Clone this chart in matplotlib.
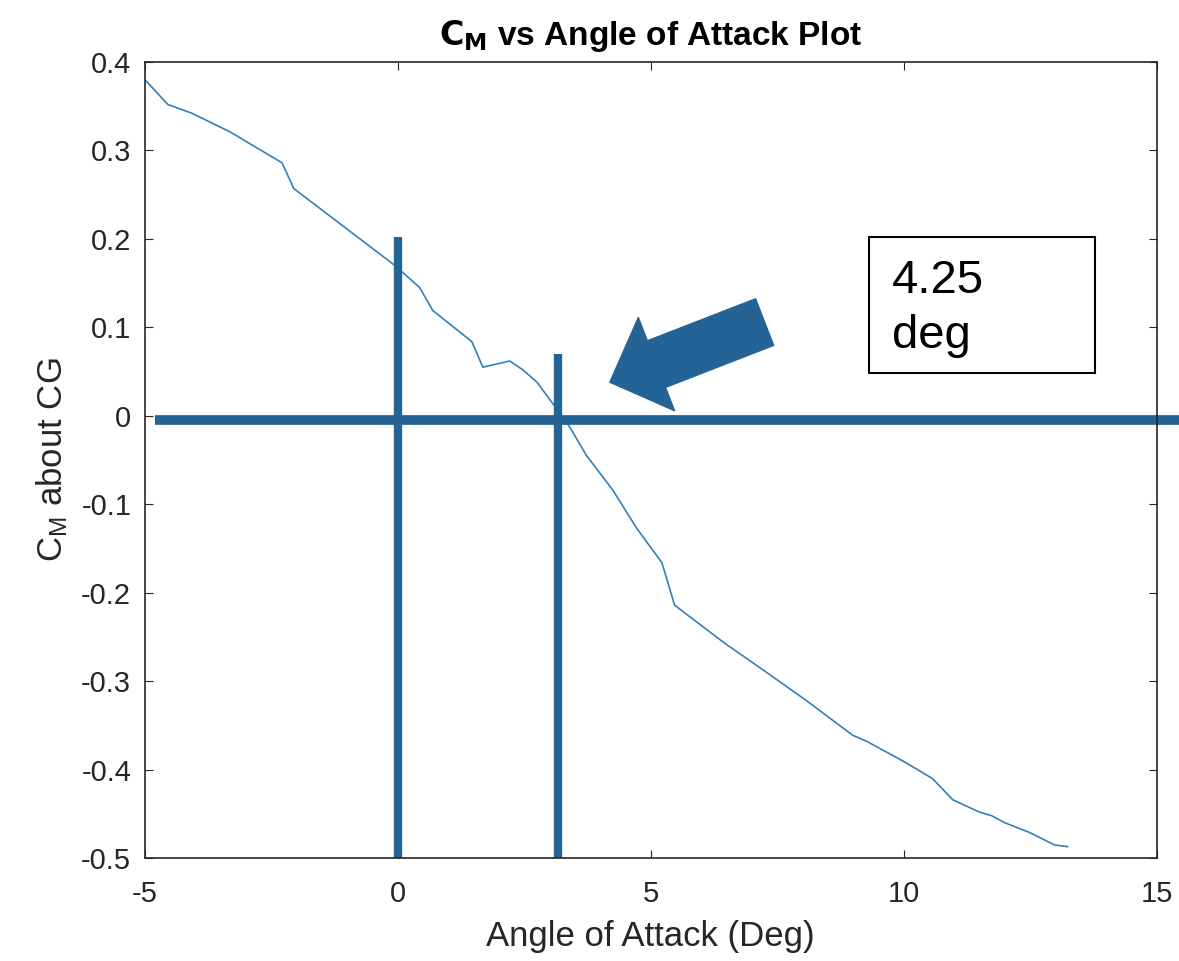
import matplotlib.pyplot as plt
from matplotlib.patches import Rectangle

plt.rcParams['font.family'] = ['Liberation Sans', 'DejaVu Sans']
plt.rcParams['axes.unicode_minus'] = False

# angle of attack (deg) and moment coefficient about CG
alpha = [-5.0, -4.55, -4.07, -3.32, -2.29, -2.06, -0.06, 0.43, 0.69, 1.46, 1.68,
         2.21, 2.47, 2.75, 3.06, 3.40, 3.73, 4.25, 4.72, 5.22, 5.47, 6.46, 7.29,
         8.08, 8.99, 9.27, 9.98, 10.57, 10.97, 11.50, 11.74, 12.00, 12.49, 12.98, 13.24]
cm = [0.380, 0.352, 0.342, 0.321, 0.286, 0.257, 0.170, 0.145, 0.119, 0.084, 0.055,
      0.062, 0.052, 0.038, 0.014, -0.013, -0.045, -0.084, -0.127, -0.166, -0.214,
      -0.257, -0.290, -0.322, -0.361, -0.368, -0.390, -0.410, -0.434, -0.448, -0.452,
      -0.460, -0.471, -0.485, -0.487]

xticks = [-5, 0, 5, 10, 15]
yticks = [0.4, 0.3, 0.2, 0.1, 0, -0.1, -0.2, -0.3, -0.4, -0.5]
ytick_labels = ['0.4', '0.3', '0.2', '0.1', '0', '-0.1', '-0.2', '-0.3', '-0.4', '-0.5']

mark = '#246396'
axcol = '#262626'

fig = plt.figure(figsize=(11.79, 9.61), dpi=100)
ax = fig.add_axes([0.123, 0.107, 0.858, 0.8285])

ax.plot(alpha, cm, color='#3380ba', linewidth=1.2)

# thick hand-drawn markers
ax.plot([0, 0], [0.202, -0.5], color=mark, linewidth=6, solid_capstyle='butt', clip_on=False)
ax.plot([3.16, 3.16], [0.07, -0.5], color=mark, linewidth=6, solid_capstyle='butt', clip_on=False)
ax.plot([-4.8, 15.5], [-0.005, -0.005], color=mark, linewidth=7, solid_capstyle='butt', clip_on=False)

ax.annotate('', xy=(4.19, 0.038), xytext=(7.25, 0.106),
            arrowprops=dict(arrowstyle='simple,head_width=3.6,head_length=1.8,tail_width=1.8',
                            mutation_scale=20, color=mark, shrinkA=0, shrinkB=0))

ax.add_patch(Rectangle((0.716, 0.609), 0.223, 0.171, transform=ax.transAxes,
                       facecolor='white', edgecolor='black', linewidth=1.5, zorder=5))
ax.text(0.738, 0.690, '4.25\ndeg', transform=ax.transAxes, fontsize=34, linespacing=1.32,
        va='center', ha='left', zorder=6)

ax.set_xlim(-5, 15)
ax.set_ylim(-0.5, 0.4)
ax.set_xticks(xticks)
ax.set_yticks(yticks)
ax.set_yticklabels(ytick_labels)
ax.tick_params(direction='in', length=6, labelsize=21, colors=axcol, top=True, right=True)
ax.tick_params(axis='x', pad=16)
ax.tick_params(axis='y', pad=10)
for s in ax.spines.values():
    s.set_color(axcol)
    s.set_linewidth(1.2)

ax.set_xlabel('Angle of Attack (Deg)', fontsize=25, color=axcol, labelpad=8)
ax.set_ylabel('$\\mathregular{C_M}$ about CG', fontsize=25, color=axcol, labelpad=8)
ax.set_title('$\\mathbf{C_M}$ vs Angle of Attack Plot', fontsize=24, fontweight='bold', pad=12)

fig.savefig('out.png', dpi=100)
